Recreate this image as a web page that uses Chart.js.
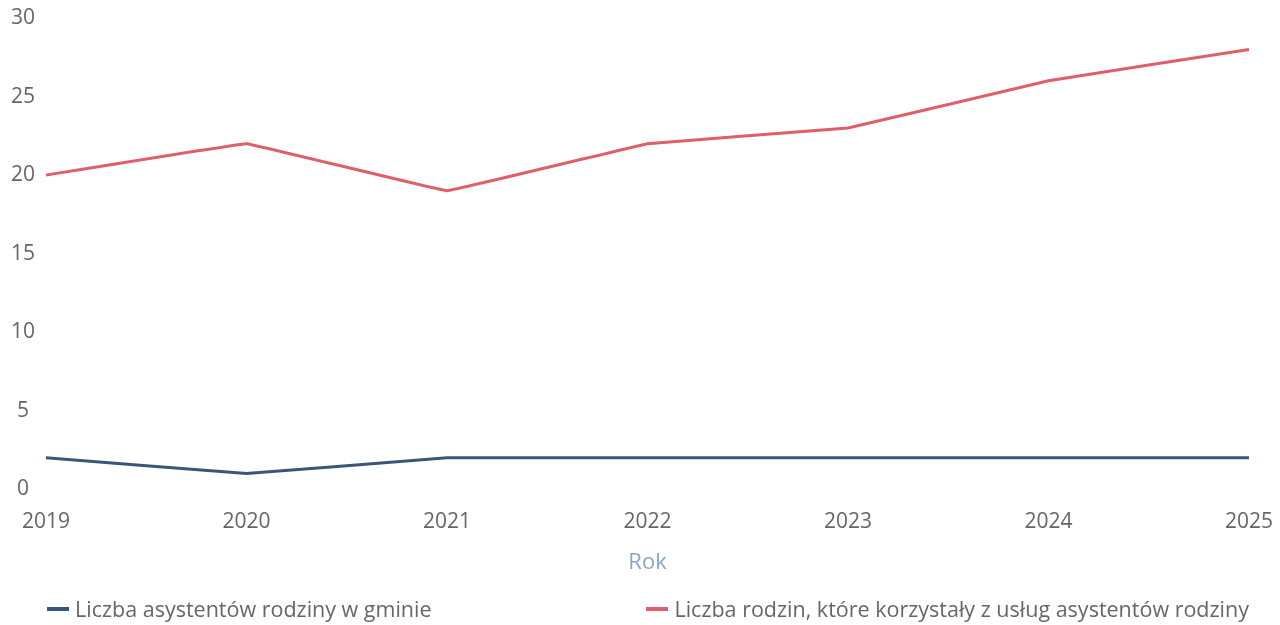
<!DOCTYPE html>
<html>
<head>
<meta charset="utf-8">
<script src="https://cdn.jsdelivr.net/npm/chart.js@4.4.1/dist/chart.umd.min.js"></script>
<style>
  html, body { margin: 0; padding: 0; background: #ffffff; }
  #wrap { position: relative; width: 1280px; height: 625px; }
  #c { position: absolute; left: 0; top: 0; }
  #legend { position: absolute; left: 47px; top: 594px; width: 1202px; display: flex; justify-content: space-between;
            font-family: "Open Sans", sans-serif; font-size: 21.5px; color: #666666; }
  .item { display: flex; align-items: center; white-space: nowrap; }
  .sw { width: 22px; height: 4px; margin-right: 6px; }
</style>
</head>
<body>
<div id="wrap">
  <canvas id="c" width="1280" height="625"></canvas>
  <div id="legend"></div>
</div>
<script>
const years = ["2019", "2020", "2021", "2022", "2023", "2024", "2025"];
const assistants = [2, 1, 2, 2, 2, 2, 2];
const families = [20, 22, 19, 22, 23, 26, 28];
const seriesNames = ["Liczba asystentów rodziny w gminie", "Liczba rodzin, które korzystały z usług asystentów rodziny"];
const yTicks = [0, 5, 10, 15, 20, 25, 30];
const colors = ["#3a5579", "#de5f6a"];

const font = "'Open Sans', sans-serif";
const chart = new Chart(document.getElementById('c'), {
  type: 'line',
  data: {
    labels: years,
    datasets: [
      { label: seriesNames[0], data: assistants, borderColor: colors[0], backgroundColor: colors[0], borderWidth: 3, pointRadius: 0, tension: 0.03 },
      { label: seriesNames[1], data: families, borderColor: colors[1], backgroundColor: colors[1], borderWidth: 3, pointRadius: 0, tension: 0.03 }
    ]
  },
  options: {
    responsive: false,
    animation: false,
    layout: { padding: { left: 0, right: 31, top: 18, bottom: 53 } },
    plugins: { legend: { display: false }, tooltip: { enabled: false } },
    scales: {
      x: {
        offset: false,
        afterFit: (s) => { s.paddingRight = 0; },
        grid: { display: false, drawTicks: false },
        border: { display: false },
        ticks: { color: '#666666', font: { family: font, size: 21 }, padding: 20, maxRotation: 0 },
        title: { display: true, text: 'Rok', color: '#8ba5c6', font: { family: font, size: 22, lineHeight: 0.8 }, padding: { top: 0, bottom: 0 } }
      },
      y: {
        min: 0, max: 30,
        afterBuildTicks: (s) => { s.ticks = yTicks.map(v => ({ value: v })); },
        afterFit: (s) => { s.paddingTop = 0; s.paddingBottom = 0; },
        grid: { display: false, drawTicks: false },
        border: { display: false },
        ticks: { color: '#666666', font: { family: font, size: 21 }, padding: 11, crossAlign: 'center' }
      }
    }
  }
});

const leg = document.getElementById('legend');
chart.data.datasets.forEach(ds => {
  const it = document.createElement('div'); it.className = 'item';
  const sw = document.createElement('span'); sw.className = 'sw'; sw.style.background = ds.borderColor;
  const tx = document.createElement('span'); tx.textContent = ds.label;
  it.appendChild(sw); it.appendChild(tx); leg.appendChild(it);
});
</script>
</body>
</html>
